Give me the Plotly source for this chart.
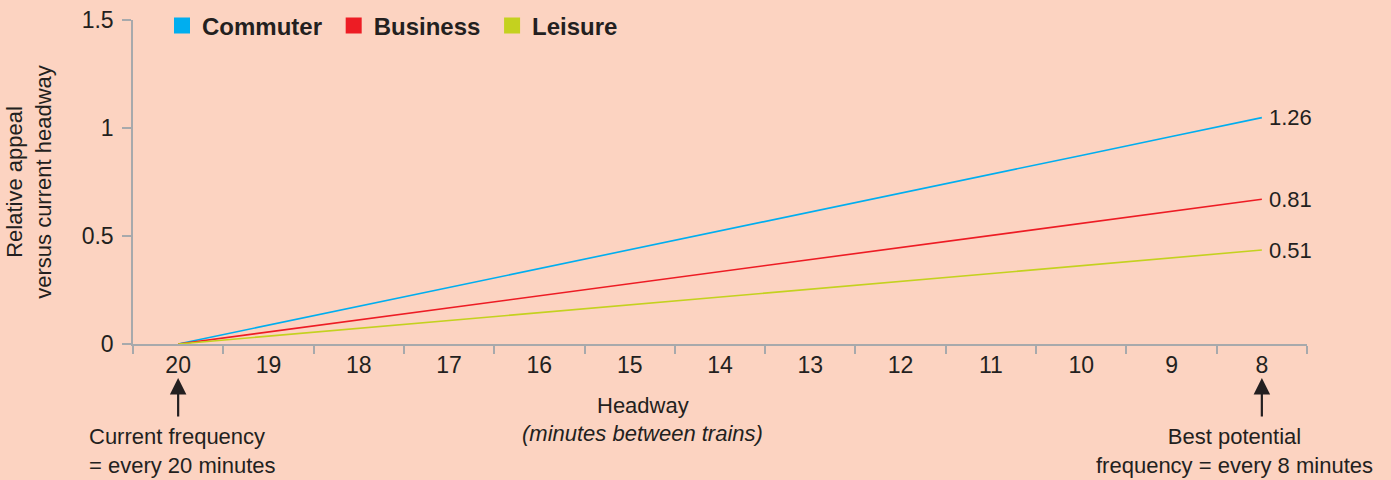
import plotly.graph_objects as go

headways = ["20", "19", "18", "17", "16", "15", "14", "13", "12", "11", "10", "9", "8"]
commuter = [0, 0.087, 0.175, 0.262, 0.349, 0.437, 0.524, 0.611, 0.699, 0.786, 0.873, 0.961, 1.048]
business = [0, 0.056, 0.112, 0.168, 0.223, 0.279, 0.335, 0.391, 0.447, 0.503, 0.558, 0.614, 0.670]
leisure = [0, 0.036, 0.073, 0.109, 0.145, 0.181, 0.218, 0.254, 0.290, 0.326, 0.363, 0.399, 0.435]
series_names = ["Commuter", "Business", "Leisure"]
end_labels = ["1.26", "0.81", "0.51"]
y_ticks = [0, 0.5, 1, 1.5]
y_tick_text = ["0", "0.5", "1", "1.5"]

colors = ["#00AEEF", "#ED1C24", "#C4D11F"]
BG = "#FCD3C1"
TXT = "#231F20"
AX = "#A7A9AC"
FONT = "Liberation Sans, Arial, sans-serif"

fig = go.Figure()
for name, vals, col in zip(series_names, [commuter, business, leisure], colors):
    fig.add_trace(go.Scatter(x=headways, y=vals, mode="lines", line=dict(color=col, width=1.6),
                             showlegend=False, hoverinfo="skip"))
# legend entries (square swatches)
for name, col in zip(series_names, colors):
    fig.add_trace(go.Scatter(x=[None], y=[None], mode="markers", name=name + "\u00a0",
                             marker=dict(symbol="square", size=16, color=col)))

last = len(headways) - 1
for vals, lab in zip([commuter, business, leisure], end_labels):
    fig.add_annotation(x=last, y=vals[-1], text=lab, showarrow=False,
                       xanchor="left", yanchor="middle", xshift=5,
                       font=dict(size=22, color=TXT, family=FONT))

# x title
fig.add_annotation(xref="paper", yref="paper", x=0.434, y=-(405 - 344) / 324, text="Headway",
                   showarrow=False, font=dict(size=22, color=TXT, family=FONT), yanchor="middle")
fig.add_annotation(xref="paper", yref="paper", x=0.434, y=-(434 - 344) / 324,
                   text="<i>(minutes between trains)</i>",
                   showarrow=False, font=dict(size=22, color=TXT, family=FONT), yanchor="middle")

# arrows
for idx in [0, last]:
    fig.add_annotation(x=idx, y=0, ax=0, ay=40, text="", showarrow=True,
                       arrowhead=2, arrowsize=1.5, arrowwidth=2.2, arrowcolor=TXT,
                       yshift=-34, xref="x", yref="y", axref="pixel", ayref="pixel")

fig.add_annotation(xref="paper", yref="paper", x=(87 - 133) / 1174, y=-(451 - 344) / 324,
                   text="Current frequency<br>= every 20 minutes", showarrow=False, align="left",
                   xanchor="left", yanchor="middle", font=dict(size=22, color=TXT, family=FONT))
fig.add_annotation(xref="paper", yref="paper", x=(1234 - 133) / 1174, y=-(451 - 344) / 324,
                   text="Best potential<br>frequency = every 8 minutes", showarrow=False, align="center",
                   xanchor="center", yanchor="middle", font=dict(size=22, color=TXT, family=FONT))

fig.update_layout(
    width=1391, height=480,
    margin=dict(l=133, r=84, t=20, b=136, autoexpand=False),
    paper_bgcolor=BG, plot_bgcolor=BG,
    font=dict(family=FONT, color=TXT, size=22),
    legend=dict(orientation="h", xref="container", yref="container",
                x=162 / 1391, y=1 - 26 / 480, xanchor="left", yanchor="middle",
                bgcolor="rgba(0,0,0,0)", borderwidth=0,
                font=dict(size=24, color=TXT, family=FONT, weight="bold"),
                itemclick=False),
    xaxis=dict(type="category", range=[-0.5, 12.5], tickson="boundaries", ticks="outside",
               ticklen=8, tickcolor=AX, tickwidth=1.5, showline=True, linecolor=AX, linewidth=1.5,
               showgrid=False, zeroline=False, tickfont=dict(size=23, color=TXT), fixedrange=True),
    yaxis=dict(range=[0, 1.5], tickvals=y_ticks, ticktext=y_tick_text, ticks="outside",
               ticklen=9, tickcolor=AX, tickwidth=1.5, showline=True, linecolor=AX, linewidth=1.5,
               showgrid=False, zeroline=False, tickfont=dict(size=23, color=TXT),
               ticklabelstandoff=4,
               title=dict(text="Relative appeal<br>versus current headway", font=dict(size=22, color=TXT),
                          standoff=24), fixedrange=True),
)

fig.write_html("out.html")
